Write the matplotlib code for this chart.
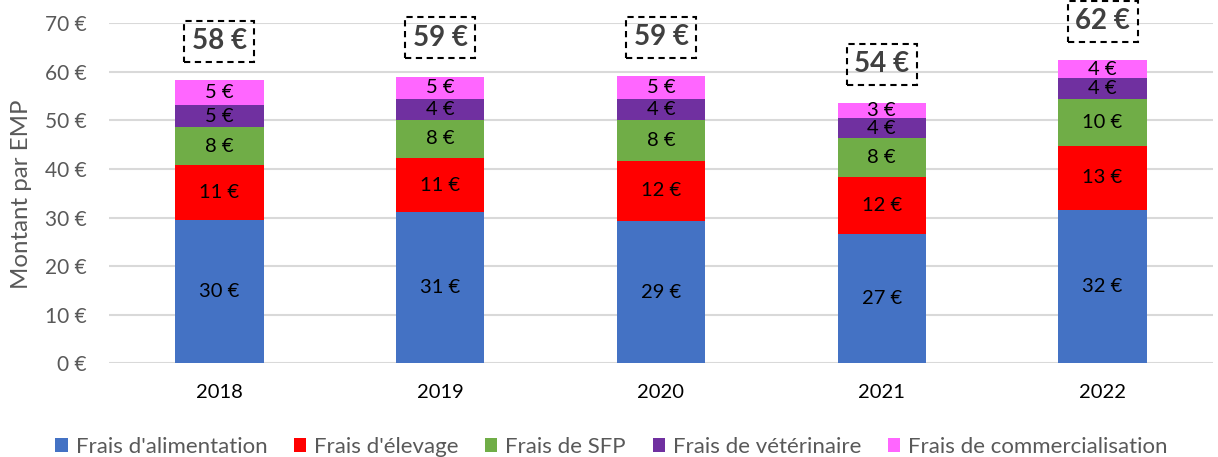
import matplotlib
matplotlib.use("Agg")
import matplotlib.pyplot as plt
import numpy as np

years = ["2018", "2019", "2020", "2021", "2022"]
series_names = ["Frais d'alimentation", "Frais d'élevage", "Frais de SFP",
                "Frais de vétérinaire", "Frais de commercialisation"]
alimentation = [29.5, 31.1, 29.3, 26.7, 31.6]
elevage = [11.3, 11.2, 12.35, 11.6, 13.2]
sfp = [7.8, 7.8, 8.45, 8.0, 9.6]
veterinaire = [4.6, 4.3, 4.3, 4.2, 4.3]
commercialisation = [5.1, 4.6, 4.75, 3.1, 3.7]
colors = ["#4472C4", "#FF0000", "#70AD47", "#7030A0", "#FF66FF"]

plt.rcParams['font.family'] = ['Lato', 'DejaVu Sans']

W, H = 1218, 457
fig = plt.figure(figsize=(W / 100, H / 100), dpi=100)
ax = fig.add_axes([109 / W, 93.7 / H, 1104 / W, 340 / H])

x = np.arange(len(years))
data = [alimentation, elevage, sfp, veterinaire, commercialisation]
bottom = np.zeros(len(years))
for vals, name, col in zip(data, series_names, colors):
    vals = np.array(vals)
    ax.bar(x, vals, 0.4, bottom=bottom, color=col, label=name, zorder=3)
    for xi, b, v in zip(x, bottom, vals):
        ax.text(xi, b + v / 2, f"{v:.0f} €", ha='center', va='center',
                fontsize=14.5, color='black', zorder=4)
    bottom = bottom + vals

totals = bottom
for xi, t in zip(x, totals):
    ax.text(xi, t + 8, f"{t:.0f} €", ha='center', va='center', fontsize=20,
            fontweight='bold', color='#404040', zorder=5, clip_on=False,
            bbox=dict(boxstyle='square,pad=0.27', fc='none', ec='black',
                      ls=(0, (3, 2.2)), lw=1.5))

ax.set_xlim(-0.5, 4.5)
ax.set_ylim(0, 70)
ax.set_yticks(np.arange(0, 71, 10))
ax.set_yticklabels([f"{v} €" for v in range(0, 71, 10)])
ax.set_xticks(x)
ax.set_xticklabels(years)
ax.tick_params(axis='y', length=0, pad=16, labelsize=15, labelcolor='#595959')
ax.tick_params(axis='x', length=0, pad=15, labelsize=14.5, labelcolor='black')
ax.grid(axis='y', color='#D9D9D9', lw=1.5, zorder=0)
for s in ax.spines.values():
    s.set_visible(False)

yl = fig.text(22 / W, 1 - 194 / H, "Montant par EMP", rotation=90, ha='center',
              va='center', fontsize=18, color='#595959')
fig.canvas.draw()
r = fig.canvas.get_renderer()
ext = yl.get_window_extent(r)
yl.set_fontsize(18 * 188 / ext.height)

fig.legend(loc='center', bbox_to_anchor=(0.502, 1 - 447 / H), ncol=5, frameon=False,
           fontsize=16, handlelength=0.55, handleheight=0.55, handletextpad=0.36,
           columnspacing=1.2, labelcolor='#595959', borderaxespad=0, borderpad=0)

fig.savefig("out.png", dpi=100)
